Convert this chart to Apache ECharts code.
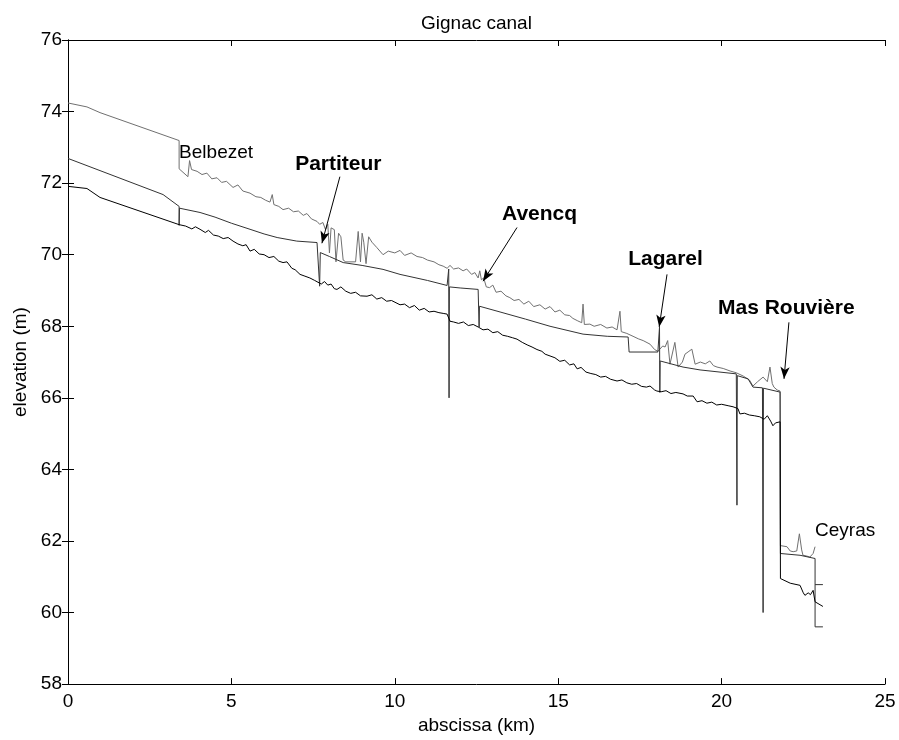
<!DOCTYPE html>
<html>
<head>
<meta charset="utf-8">
<script src="https://cdn.jsdelivr.net/npm/echarts@6/dist/echarts.min.js"></script>
<style>
html, body { margin: 0; padding: 0; background: #fff; }
#main { width: 899px; height: 740px; }
</style>
</head>
<body>
<div id="main"></div>
<script>
// upper profile (grey)
var topKm = [0, 0.58, 0.98, 3.40, 3.40, 3.67, 3.72, 3.78, 3.95, 4.1, 4.25, 4.4, 4.56, 4.7, 4.85, 5.05, 5.2, 5.35, 5.57, 5.75, 5.9, 6.05, 6.18, 6.25, 6.3, 6.45, 6.58, 6.75, 6.9, 7.05, 7.2, 7.31, 7.45, 7.62, 7.7, 7.8, 7.88, 7.95, 8.0, 8.05, 8.15, 8.2, 8.28, 8.35, 8.42, 8.5, 8.8, 8.88, 8.95, 9.0, 9.05, 9.12, 9.2, 9.3, 9.45, 9.64, 9.8, 10.0, 10.16, 10.3, 10.5, 10.68, 10.85, 11.0, 11.2, 11.35, 11.48, 11.6, 11.69, 11.8, 11.95, 12.09, 12.2, 12.35, 12.45, 12.55, 12.6, 12.65, 12.72, 12.8, 12.9, 13.0, 13.1, 13.25, 13.4, 13.52, 13.65, 13.8, 13.95, 14.1, 14.25, 14.44, 14.6, 14.75, 14.9, 15.05, 15.2, 15.35, 15.45, 15.6, 15.72, 15.76, 15.8, 15.97, 16.1, 16.3, 16.49, 16.65, 16.8, 16.89, 16.93, 17.1, 17.29, 17.45, 17.6, 17.81, 17.95, 18.05, 18.1, 18.2, 18.27, 18.35, 18.42, 18.57, 18.62, 18.67, 18.8, 18.88, 19.0, 19.09, 19.19, 19.35, 19.5, 19.64, 19.75, 19.86, 20.05, 20.26, 20.45, 20.66, 20.85, 20.96, 21.1, 21.27, 21.4, 21.48, 21.55, 21.6, 21.7, 21.79, 21.8, 22.0, 22.1, 22.19, 22.3, 22.38, 22.45, 22.49, 22.6, 22.7, 22.8, 22.86];
var topElev = [74.24, 74.13, 73.97, 73.19, 72.40, 72.18, 72.63, 72.38, 72.33, 72.24, 72.28, 72.12, 72.15, 72.02, 72.05, 71.88, 71.95, 71.78, 71.72, 71.62, 71.6, 71.52, 71.47, 71.68, 71.4, 71.35, 71.26, 71.3, 71.2, 71.22, 71.1, 71.15, 71.0, 70.93, 70.85, 70.9, 70.7, 70.85, 70.05, 70.75, 70.7, 69.8, 70.6, 70.5, 69.85, 69.8, 69.8, 70.65, 69.8, 70.6, 70.35, 69.75, 70.5, 70.35, 70.2, 70.0, 70.1, 70.05, 70.12, 69.98, 70.05, 69.95, 69.92, 69.85, 69.8, 69.72, 69.68, 69.62, 69.7, 69.6, 69.63, 69.55, 69.6, 69.45, 69.5, 69.35, 69.55, 69.3, 69.35, 69.1, 69.08, 69.15, 68.95, 68.98, 68.85, 68.8, 68.72, 68.75, 68.62, 68.7, 68.55, 68.6, 68.48, 68.55, 68.4, 68.45, 68.32, 68.3, 68.22, 68.15, 68.1, 68.62, 68.05, 68.06, 68.0, 68.05, 67.95, 67.98, 67.9, 68.42, 67.85, 67.8, 67.72, 67.65, 67.6, 67.5, 67.35, 67.3, 67.35, 67.45, 67.42, 67.6, 66.94, 67.55, 67.5, 66.86, 67.0, 67.22, 67.3, 67.36, 66.94, 67.0, 66.95, 67.03, 66.9, 66.86, 66.82, 66.75, 66.7, 66.61, 66.5, 66.33, 66.45, 66.58, 66.45, 66.86, 66.4, 66.3, 66.22, 66.19, 61.87, 61.84, 61.72, 61.7, 61.72, 62.2, 61.75, 61.6, 61.58, 61.55, 61.65, 61.84];

// middle profile (dark grey), '-' breaks the line
var midKm = [0, 2.91, 3.4, 3.4, 3.41, 4.04, 4.5, 5.0, 5.57, 6.0, 6.4, 7.0, 7.62, 7.68, 7.7, 7.72, 8.0, 8.42, 9.0, 9.64, 10.16, 11.0, 11.6, 11.64, 11.65, 11.66, 11.67, 12.0, 12.55, 12.58, 12.59, 12.6, 13.22, 14.0, 14.75, 15.76, 16.5, 17.14, 17.17, 18.05, 18.09, 18.1, 18.11, 18.12, 18.82, 19.34, 20.45, 20.46, 20.47, 20.48, 20.81, 20.96, 21.25, 21.27, 21.28, 21.79, 21.8, 22.4, 22.86, 22.86, 23.1, 23.1, 22.86, 23.1];
var midElev = [72.69, 71.68, 71.35, 70.82, 71.3, 71.18, 71.05, 70.88, 70.71, 70.58, 70.48, 70.38, 70.34, 70.36, 69.12, 70.06, 69.95, 69.78, 69.7, 69.59, 69.45, 69.28, 69.14, 69.12, 69.6, 66.0, 69.1, 69.07, 69.03, 67.98, 68.56, 68.56, 68.4, 68.2, 68.0, 67.78, 67.72, 67.7, 67.28, 67.28, 67.28, 67.98, 66.15, 67.03, 66.86, 66.78, 66.67, 66.67, 63.0, 66.62, 66.53, 66.3, 66.28, 60.0, 66.27, 66.16, 61.65, 61.6, 61.51, 59.6, 59.6, '-', 60.78, 60.78];

// lower profile (black)
var lowKm = [0, 0.58, 0.98, 3.4, 3.6, 3.79, 3.9, 4.04, 4.2, 4.3, 4.45, 4.6, 4.75, 4.9, 5.05, 5.2, 5.35, 5.45, 5.57, 5.7, 5.85, 6.0, 6.15, 6.3, 6.45, 6.58, 6.7, 6.85, 6.95, 7.1, 7.25, 7.4, 7.55, 7.65, 7.75, 7.85, 7.95, 8.05, 8.15, 8.23, 8.35, 8.5, 8.65, 8.8, 8.95, 9.15, 9.3, 9.45, 9.6, 9.75, 9.9, 10.16, 10.3, 10.45, 10.6, 10.75, 10.9, 11.05, 11.2, 11.35, 11.48, 11.6, 11.69, 11.8, 11.95, 12.1, 12.25, 12.4, 12.55, 12.7, 12.85, 13.0, 13.15, 13.3, 13.45, 13.6, 13.74, 13.9, 14.05, 14.2, 14.35, 14.5, 14.6, 14.75, 14.9, 15.05, 15.2, 15.35, 15.48, 15.58, 15.7, 15.85, 16.0, 16.15, 16.3, 16.45, 16.6, 16.8, 16.95, 17.1, 17.25, 17.4, 17.55, 17.7, 17.81, 17.95, 18.02, 18.15, 18.3, 18.45, 18.6, 18.82, 18.95, 19.13, 19.25, 19.4, 19.55, 19.7, 19.85, 20.0, 20.2, 20.35, 20.5, 20.56, 20.7, 20.85, 21.0, 21.17, 21.3, 21.4, 21.5, 21.57, 21.65, 21.79, 21.8, 22.1, 22.4, 22.5, 22.55, 22.65, 22.72, 22.8, 22.86, 23.1];
var lowElev = [71.91, 71.85, 71.6, 70.84, 70.8, 70.72, 70.78, 70.71, 70.62, 70.68, 70.55, 70.52, 70.45, 70.48, 70.38, 70.3, 70.25, 70.28, 70.1, 70.15, 70.02, 70.0, 69.92, 69.95, 69.82, 69.78, 69.8, 69.62, 69.58, 69.45, 69.4, 69.35, 69.28, 69.23, 69.18, 69.25, 69.15, 69.18, 69.05, 69.03, 69.1, 68.98, 68.92, 68.95, 68.85, 68.84, 68.88, 68.76, 68.8, 68.7, 68.72, 68.6, 68.62, 68.52, 68.58, 68.45, 68.5, 68.4, 68.42, 68.38, 68.36, 68.34, 68.14, 68.12, 68.08, 68.12, 68.02, 68.05, 67.98, 67.9, 67.92, 67.82, 67.85, 67.75, 67.72, 67.68, 67.64, 67.55, 67.48, 67.42, 67.35, 67.3, 67.22, 67.17, 67.12, 67.02, 67.05, 66.92, 66.95, 66.81, 66.85, 66.72, 66.68, 66.65, 66.58, 66.6, 66.52, 66.47, 66.5, 66.42, 66.38, 66.4, 66.32, 66.3, 66.33, 66.22, 66.19, 66.17, 66.2, 66.12, 66.15, 66.11, 66.05, 66.05, 65.89, 65.92, 65.85, 65.88, 65.8, 65.82, 65.78, 65.75, 65.7, 65.55, 65.57, 65.52, 65.5, 65.47, 65.4, 65.5, 65.35, 65.22, 65.3, 65.33, 60.95, 60.82, 60.76, 60.55, 60.48, 60.55, 60.5, 60.62, 60.3, 60.17];

// annotations
var plainNames = ['Belbezet', 'Ceyras'];
var plainPos = [[3.4, 72.85], [22.86, 62.29]];
var boldNames = ['Partiteur', 'Avencq', 'Lagarel', 'Mas Rouvière'];
var boldPos = [[6.95, 72.52], [13.28, 71.12], [17.14, 69.87], [19.89, 68.5]];
var arrowFrom = [[8.32, 72.18], [13.74, 70.76], [18.33, 69.45], [22.06, 68.11]];
var arrowTo = [[7.77, 70.32], [12.7, 69.26], [18.09, 67.98], [21.91, 66.53]];

function zip(xs, ys) {
    var out = [];
    for (var i = 0; i < xs.length; i++) {
        out.push([xs[i], ys[i]]);
    }
    return out;
}

function labelData(names, pos) {
    var out = [];
    for (var i = 0; i < names.length; i++) {
        out.push({ name: names[i], value: pos[i] });
    }
    return out;
}

var arrows = [];
for (var i = 0; i < arrowFrom.length; i++) {
    arrows.push([{ coord: arrowFrom[i] }, { coord: arrowTo[i] }]);
}

var font = 'Liberation Sans, Arial, Helvetica, sans-serif';

var dom = document.getElementById('main');
var myChart = echarts.init(dom);

var tickStyle = { show: true, inside: true, length: 6, lineStyle: { color: '#000' } };
var lineAx = { show: true, lineStyle: { color: '#000', width: 1 } };

var option = {
    animation: false,
    backgroundColor: '#fff',
    title: {
        text: 'Gignac canal',
        left: 416,
        top: 9,
        textStyle: { fontFamily: font, fontSize: 19, fontWeight: 'normal', color: '#000' }
    },
    grid: { left: 68, right: 14, top: 40, bottom: 54 },
    xAxis: [{
        type: 'value',
        min: 0, max: 25, interval: 5,
        name: 'abscissa (km)',
        nameLocation: 'middle',
        nameGap: 28,
        nameTextStyle: { fontFamily: font, fontSize: 19, color: '#000' },
        axisLine: lineAx,
        axisTick: tickStyle,
        axisLabel: { fontFamily: font, fontSize: 19, color: '#000', margin: 8 },
        splitLine: { show: false }
    }, {
        type: 'value',
        position: 'top',
        min: 0, max: 25, interval: 5,
        axisLine: lineAx,
        axisTick: tickStyle,
        axisLabel: { show: false },
        splitLine: { show: false }
    }],
    yAxis: [{
        type: 'value',
        min: 58, max: 76, interval: 2,
        name: 'elevation (m)',
        nameLocation: 'middle',
        nameGap: 36,
        nameTextStyle: { fontFamily: font, fontSize: 19, color: '#000' },
        axisLine: lineAx,
        axisTick: tickStyle,
        axisLabel: { fontFamily: font, fontSize: 19, color: '#000', margin: 6 },
        splitLine: { show: false }
    }, {
        type: 'value',
        position: 'right',
        min: 58, max: 76, interval: 2,
        axisLine: lineAx,
        axisTick: tickStyle,
        axisLabel: { show: false },
        splitLine: { show: false }
    }],
    series: [
        {
            type: 'line',
            data: zip(topKm, topElev),
            showSymbol: false,
            lineStyle: { color: '#707070', width: 1 },
            silent: true
        },
        {
            type: 'line',
            data: zip(midKm, midElev),
            showSymbol: false,
            connectNulls: false,
            lineStyle: { color: '#333', width: 1 },
            silent: true
        },
        {
            type: 'line',
            data: zip(lowKm, lowElev),
            showSymbol: false,
            lineStyle: { color: '#000', width: 1 },
            silent: true
        },
        {
            type: 'scatter',
            data: labelData(plainNames, plainPos),
            symbolSize: 0,
            silent: true,
            itemStyle: { opacity: 1 },
            label: {
                show: true,
                position: 'right',
                distance: 0,
                formatter: '{b}',
                fontFamily: font,
                fontSize: 19,
                color: '#000'
            }
        },
        {
            type: 'scatter',
            data: labelData(boldNames, boldPos),
            symbolSize: 0,
            silent: true,
            itemStyle: { opacity: 1 },
            label: {
                show: true,
                position: 'right',
                distance: 0,
                formatter: '{b}',
                fontFamily: font,
                fontSize: 21,
                fontWeight: 'bold',
                color: '#000'
            },
            markLine: {
                silent: true,
                symbol: ['none', 'arrow'],
                symbolSize: [7, 12],
                label: { show: false },
                lineStyle: { color: '#000', width: 1, type: 'solid' },
                data: arrows
            }
        }
    ]
};

if (option && typeof option === "object") {
    myChart.setOption(option, true);
}
</script>
</body>
</html>
